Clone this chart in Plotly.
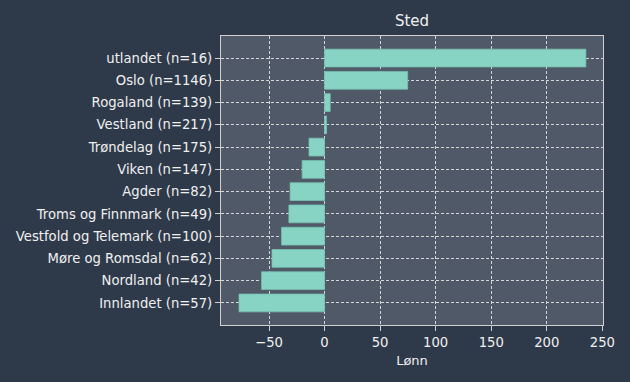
import plotly.graph_objects as go

categories = ["utlandet (n=16)", "Oslo (n=1146)", "Rogaland (n=139)", "Vestland (n=217)",
              "Trøndelag (n=175)", "Viken (n=147)", "Agder (n=82)", "Troms og Finnmark (n=49)",
              "Vestfold og Telemark (n=100)", "Møre og Romsdal (n=62)", "Nordland (n=42)",
              "Innlandet (n=57)"]
values = [235.2, 74.8, 5.1, 1.8, -14.0, -20.2, -31.0, -32.1, -38.7, -47.3, -56.7, -77.0]
x_ticks = [-50, 0, 50, 100, 150, 200, 250]
x_tick_labels = ["\u221250", "0", "50", "100", "150", "200", "250"]

W, H = 630, 382
L, R, T, B = 221, 27, 36, 57

fig = go.Figure(go.Bar(
    x=values, y=categories, orientation="h",
    marker=dict(color="#88d4c4", line=dict(color="#76bfb0", width=0.8)),
    width=0.8,
))

grid = dict(showgrid=True, gridcolor="#d4d6d9", griddash="3px,2px", gridwidth=1)
fig.update_layout(
    width=W, height=H,
    margin=dict(l=L, r=R, t=T, b=B),
    paper_bgcolor="#2e3a4a", plot_bgcolor="#4f5967",
    font=dict(family="DejaVu Sans", size=13.2, color="#f0f0f0"),
    title=dict(text="Sted", x=(L + (W - L - R) / 2) / W, xanchor="center",
               y=1 - 21 / H, yanchor="middle", font=dict(size=15, color="#f0f0f0")),
    showlegend=False,
)
fig.update_xaxes(range=[-93.2, 250.6], tickvals=x_ticks, ticktext=x_tick_labels,
                 title=dict(text="Lønn", font=dict(size=13), standoff=6),
                 automargin=False,
                 showline=True, linecolor="#d0d0d0", linewidth=1.2, mirror=True,
                 ticks="outside", ticklen=5, tickcolor="#d0d0d0", zeroline=False, **grid)
fig.update_yaxes(categoryorder="array", categoryarray=categories[::-1],
                 range=[-0.99, 11.99], automargin=False,
                 showline=True, linecolor="#d0d0d0", linewidth=1.2, mirror=True,
                 ticks="outside", ticklen=5, tickcolor="#d0d0d0", zeroline=False, **grid)

fig.write_html(
    "out.html",
    config={"displayModeBar": False},
    post_script="document.body.style.margin='0';document.body.style.background='#2e3a4a';document.body.style.overflow='hidden';",
)
